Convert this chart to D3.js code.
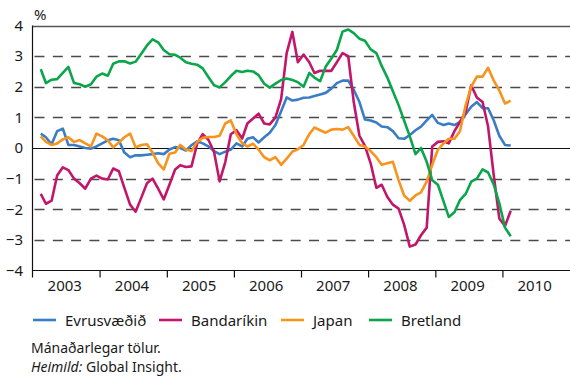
<!DOCTYPE html>
<html>
<head>
<meta charset="utf-8">
<script src="https://cdn.jsdelivr.net/npm/d3@7/dist/d3.min.js"></script>
<style>
  body { margin: 0; background: #fff; }
  svg { display: block; }
  text { font-family: "Noto Sans", "Open Sans", sans-serif; fill: #1a1a1a; }
</style>
</head>
<body>
<svg id="chart" width="570" height="378"></svg>
<script>
// Monthly figures, February 2003 – February 2010
const firstMonth = { year: 2003, month: 1 };

const years = [2003, 2004, 2005, 2006, 2007, 2008, 2009, 2010];
const yTickValues = [-4, -3, -2, -1, 0, 1, 2, 3, 4];
const seriesNames = ["Evrusvæðið", "Bandaríkin", "Japan", "Bretland"];
const seriesColors = ["#3b7dc4", "#c2166b", "#f7941e", "#0ba64b"];

const evrusvaedid = [0.47,0.35,0.12,0.55,0.63,0.1,0.1,0.05,0.0,-0.02,0.05,0.15,0.25,0.3,0.25,-0.15,-0.3,-0.24,-0.24,-0.22,
  -0.2,-0.17,-0.2,-0.05,0.03,0.0,-0.08,0.09,0.22,0.15,0.05,-0.1,-0.2,-0.12,-0.05,0.15,0.05,0.3,0.35,0.18,
  0.35,0.5,0.75,1.2,1.65,1.55,1.58,1.64,1.65,1.7,1.75,1.8,1.94,2.12,2.2,2.2,1.9,1.5,0.93,0.9,
  0.83,0.7,0.68,0.55,0.32,0.3,0.42,0.58,0.7,0.9,1.08,0.82,0.75,0.8,0.75,0.85,1.1,1.35,1.5,1.3,
  1.3,0.9,0.4,0.1,0.08];

const bandarikin = [-1.5,-1.82,-1.72,-0.9,-0.63,-0.72,-1.0,-1.15,-1.33,-1.0,-0.9,-1.0,-1.03,-0.67,-0.76,-1.3,-1.85,-2.08,-1.62,-1.15,
  -1.0,-1.33,-1.68,-1.2,-0.7,-0.56,-0.62,-0.6,0.14,0.45,0.27,-0.13,-1.09,-0.46,0.45,0.58,0.31,0.8,0.96,1.12,
  0.8,0.77,1.0,1.6,3.1,3.79,2.8,3.05,2.8,2.45,2.52,2.52,2.52,2.8,3.1,3.0,1.5,0.4,0.07,-0.5,
  -1.3,-1.2,-1.6,-1.85,-1.98,-2.5,-3.22,-3.15,-2.85,-2.6,0.05,0.2,0.22,0.15,0.55,0.85,1.18,2.05,1.65,1.5,
  0.7,-0.9,-2.3,-2.55,-2.05];

const japan = [0.38,0.2,0.1,0.15,0.28,0.35,0.2,0.26,0.15,0.05,0.47,0.38,0.25,0.02,0.18,0.35,0.47,0.02,0.1,0.12,
  -0.15,-0.5,-0.7,-0.19,-0.15,0.1,-0.05,-0.1,0.2,0.33,0.36,0.36,0.4,0.8,0.9,0.45,0.15,0.05,0.14,-0.05,
  -0.3,-0.4,-0.3,-0.55,-0.35,-0.12,-0.04,0.1,0.45,0.67,0.58,0.5,0.6,0.62,0.6,0.68,0.4,0.1,0.05,-0.1,
  -0.3,-0.55,-0.5,-0.45,-1.05,-1.55,-1.72,-1.55,-1.45,-1.1,-0.55,-0.05,0.15,0.3,0.3,0.55,1.4,2.0,2.33,2.33,
  2.62,2.2,1.88,1.45,1.55];

const bretland = [2.57,2.12,2.23,2.25,2.45,2.65,2.12,2.08,2.0,2.08,2.33,2.43,2.36,2.75,2.83,2.83,2.76,2.82,3.08,3.35,
  3.55,3.45,3.2,3.06,3.04,2.95,2.8,2.75,2.72,2.6,2.32,2.05,1.98,2.15,2.35,2.52,2.48,2.52,2.5,2.38,
  2.1,1.97,2.1,2.22,2.27,2.22,2.15,2.0,2.45,2.3,2.18,2.65,2.92,3.2,3.8,3.87,3.75,3.57,3.5,3.22,
  3.1,2.68,2.3,1.85,1.4,0.9,0.38,-0.2,0.0,-0.45,-1.05,-1.2,-1.75,-2.25,-2.1,-1.7,-1.5,-1.1,-1.0,-0.7,
  -0.8,-1.2,-1.8,-2.6,-2.88];

const seriesValues = [evrusvaedid, bandarikin, japan, bretland];

const svg = d3.select("#chart");
const plotLeft = 32.5, plotRight = 569.5, plotTop = 25.5, plotBottom = 270.5;

const x = d3.scaleTime()
  .domain([new Date(years[0], 0, 1), new Date(years[years.length - 1] + 1, 0, 1)])
  .range([plotLeft, plotRight]);
const y = d3.scaleLinear().domain([-4, 4]).range([plotBottom, plotTop]);

const monthDate = i => new Date(firstMonth.year, firstMonth.month + i, 15);

// horizontal grid
const grid = svg.append("g");
yTickValues.forEach(v => {
  if (v === -4) return;
  const yy = Math.round(y(v)) + 0.5;
  const line = grid.append("line")
    .attr("x1", plotLeft).attr("x2", plotRight + 1)
    .attr("y1", yy).attr("y2", yy);
  if (v === 0) {
    line.attr("stroke", "#111").attr("stroke-width", 1.2);
  } else if (v === 4) {
    line.attr("stroke", "#555").attr("stroke-width", 1.4);
  } else {
    line.attr("stroke", "#4a4a4a").attr("stroke-width", 1.4)
      .attr("stroke-dasharray", "10,8.3").attr("stroke-dashoffset", -2);
  }
});

// y tick labels
const yAxis = d3.axisLeft(y).tickValues(yTickValues).tickSize(0).tickPadding(0).tickFormat(d3.format("d"));
const ya = svg.append("g").attr("transform", "translate(23,0)").call(yAxis);
ya.select(".domain").remove();
ya.selectAll("text").attr("font-size", 15).attr("font-family", '"Noto Sans", sans-serif').attr("fill", "#1a1a1a");

svg.append("text").attr("x", 34).attr("y", 20).attr("font-size", 15).text("%");

// axis lines
svg.append("line").attr("x1", plotLeft).attr("x2", plotLeft).attr("y1", plotTop).attr("y2", plotBottom + 7)
  .attr("stroke", "#111").attr("stroke-width", 1.2);
svg.append("line").attr("x1", plotLeft).attr("x2", plotRight + 1).attr("y1", plotBottom).attr("y2", plotBottom)
  .attr("stroke", "#111").attr("stroke-width", 1.2);

// year ticks and labels
const xAxis = d3.axisBottom(x)
  .tickValues(years.slice(1).map(yr => new Date(yr, 0, 1)))
  .tickSize(7).tickFormat("");
const xa = svg.append("g").attr("transform", `translate(0,${plotBottom})`).call(xAxis);
xa.select(".domain").remove();
xa.selectAll("line").attr("stroke", "#111").attr("stroke-width", 1.2);

svg.append("g").selectAll("text").data(years).join("text")
  .attr("x", yr => x(new Date(yr, 6, 1)) - 1)
  .attr("y", 291)
  .attr("text-anchor", "middle")
  .attr("font-size", 15)
  .text(yr => yr);

// series lines
const lineGen = d3.line()
  .x((d, i) => x(monthDate(i)))
  .y(d => y(d));

svg.append("g").selectAll("path").data(seriesValues).join("path")
  .attr("d", lineGen)
  .attr("fill", "none")
  .attr("stroke", (d, i) => seriesColors[i])
  .attr("stroke-width", 2.6)
  .attr("stroke-linejoin", "round");

// legend
const legendX = [33, 159, 281, 369];
const legend = svg.append("g").selectAll("g").data(seriesNames).join("g")
  .attr("transform", (d, i) => `translate(${legendX[i]},320)`);
legend.append("line").attr("x1", 0).attr("x2", 23).attr("y1", 0).attr("y2", 0)
  .attr("stroke", (d, i) => seriesColors[i]).attr("stroke-width", 2.6);
legend.append("text").attr("x", 32).attr("y", 6).attr("font-size", 15).text(d => d);

// notes
svg.append("text").attr("x", 31).attr("y", 353).attr("font-size", 14).text("Mánaðarlegar tölur.");
const src = svg.append("text").attr("x", 31).attr("y", 372).attr("font-size", 14);
src.append("tspan").attr("font-style", "italic").text("Heimild:");
src.append("tspan").text(" Global Insight.");
</script>
</body>
</html>
